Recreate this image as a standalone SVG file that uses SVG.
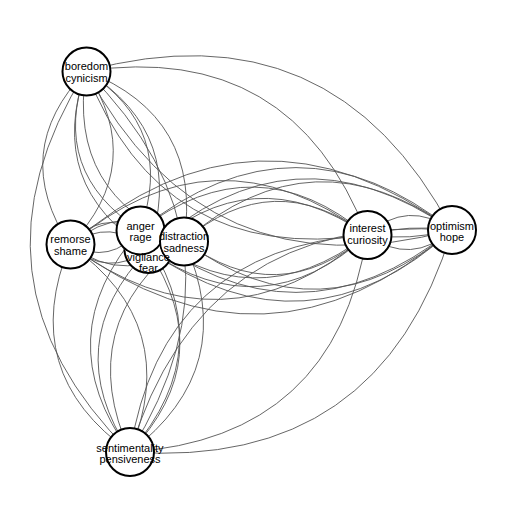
<svg xmlns="http://www.w3.org/2000/svg" width="523" height="523" viewBox="0 0 523 523">
<style>
.e{fill:none;stroke:#555;stroke-width:0.9}
.n{fill:#fff;stroke:#000;stroke-width:2}
.t{font-family:"Liberation Sans",Arial,Helvetica,sans-serif;font-size:11px;fill:#000;text-anchor:middle}
</style>
<defs>
<mask id="maskV" maskUnits="userSpaceOnUse" x="0" y="0" width="523" height="523">
<rect x="0" y="0" width="523" height="523" fill="#fff"/>
<circle cx="140.5" cy="230.5" r="25" fill="#000"/>
<circle cx="184" cy="241.5" r="25" fill="#000"/>
</mask>
</defs>
<rect width="523" height="523" fill="#fff"/>
<g id="edges">
<path class="e" d="M86,71 Q147.6,164.4 70,245"/>
<path class="e" d="M86,71 Q8.4,151.6 70,245"/>
<path class="e" d="M86,71 Q176.6,128.9 140,230"/>
<path class="e" d="M86,71 Q49.4,172.1 140,230"/>
<path class="e" d="M86,71 Q188.6,135.7 148,250"/>
<path class="e" d="M86,71 Q45.4,185.3 148,250"/>
<path class="e" d="M86,71 Q203,116.8 184,241"/>
<path class="e" d="M86,71 Q67,195.2 184,241"/>
<path class="e" d="M86,71 Q292.1,40.6 367,235"/>
<path class="e" d="M86,71 Q160.9,265.4 367,235"/>
<path class="e" d="M86,71 Q332.6,4.1 452,230"/>
<path class="e" d="M86,71 Q205.4,296.9 452,230"/>
<path class="e" d="M86,71 Q260.4,243.9 130,452"/>
<path class="e" d="M86,71 Q-44.4,279.1 130,452"/>
<path class="e" d="M70,245 Q99,209.5 140,230"/>
<path class="e" d="M70,245 Q111,265.5 140,230"/>
<path class="e" d="M70,245 Q111,216.3 148,250"/>
<path class="e" d="M70,245 Q107,278.7 148,250"/>
<path class="e" d="M70,245 Q125.4,197.4 184,241"/>
<path class="e" d="M70,245 Q128.6,288.6 184,241"/>
<path class="e" d="M70,245 Q214.5,121.2 367,235"/>
<path class="e" d="M70,245 Q222.5,358.8 367,235"/>
<path class="e" d="M70,245 Q255,84.7 452,230"/>
<path class="e" d="M70,245 Q267,390.3 452,230"/>
<path class="e" d="M70,245 Q182.8,324.5 130,452"/>
<path class="e" d="M70,245 Q17.2,372.5 130,452"/>
<path class="e" d="M140,230 Q152,236.8 148,250"/>
<path class="e" d="M140,230 Q136,243.2 148,250"/>
<path class="e" d="M140,230 Q166.4,217.9 184,241"/>
<path class="e" d="M140,230 Q157.6,253.1 184,241"/>
<path class="e" d="M140,230 Q255.5,141.7 367,235"/>
<path class="e" d="M140,230 Q251.5,323.3 367,235"/>
<path class="e" d="M140,230 Q296,105.2 452,230"/>
<path class="e" d="M140,230 Q296,354.8 452,230"/>
<path class="e" d="M140,230 Q223.8,345 130,452"/>
<path class="e" d="M140,230 Q46.2,337 130,452"/>
<path class="e" d="M148,250 Q162.4,231.1 184,241"/>
<path class="e" d="M148,250 Q169.6,259.9 184,241"/>
<path class="e" d="M148,250 Q251.5,154.9 367,235"/>
<path class="e" d="M148,250 Q263.5,330.1 367,235"/>
<path class="e" d="M148,250 Q292,118.4 452,230"/>
<path class="e" d="M148,250 Q308,361.6 452,230"/>
<path class="e" d="M148,250 Q219.8,358.2 130,452"/>
<path class="e" d="M148,250 Q58.2,343.8 130,452"/>
<path class="e" d="M184,241 Q273.1,164.8 367,235"/>
<path class="e" d="M184,241 Q277.9,311.2 367,235"/>
<path class="e" d="M184,241 Q313.6,128.3 452,230"/>
<path class="e" d="M184,241 Q322.4,342.7 452,230"/>
<path class="e" d="M184,241 Q241.4,368.1 130,452"/>
<path class="e" d="M184,241 Q72.6,324.9 130,452"/>
<path class="e" d="M367,235 Q407.5,198.5 452,230"/>
<path class="e" d="M367,235 Q411.5,266.5 452,230"/>
<path class="e" d="M367,235 Q409,224 452,230"/>
<path class="e" d="M367,235 Q410,241 452,230"/>
<path class="e" d="M367,235 Q335.3,438.3 130,452"/>
<path class="e" d="M367,235 Q161.7,248.7 130,452"/>
<path class="e" d="M452,230 Q379.8,469.8 130,452"/>
<path class="e" d="M452,230 Q202.2,212.2 130,452"/>
</g>
<g id="node-boredom">
<circle class="n" cx="86.5" cy="71.5" r="24"/>
<text class="t" x="86.5" y="70">boredom</text>
<text class="t" x="86.5" y="82">cynicism</text>
</g>
<g id="node-remorse">
<circle class="n" cx="70.5" cy="244.5" r="24"/>
<text class="t" x="70.5" y="243">remorse</text>
<text class="t" x="70.5" y="254.5">shame</text>
</g>
<g id="node-anger">
<circle class="n" cx="140.5" cy="230.5" r="24"/>
<text class="t" x="140.5" y="229.5">anger</text>
<text class="t" x="140.5" y="241">rage</text>
</g>
<g id="node-distraction">
<circle class="n" cx="184" cy="241.5" r="24"/>
<text class="t" x="184" y="240">distraction</text>
<text class="t" x="184" y="251.5">sadness</text>
</g>
<g id="node-vigilance">
<circle class="n" cx="148.5" cy="249" r="24" mask="url(#maskV)"/>
<text class="t" x="148.5" y="261">vigilance</text>
<text class="t" x="148.5" y="272">fear</text>
</g>
<g id="node-interest">
<circle class="n" cx="367.5" cy="235" r="24"/>
<text class="t" x="367.5" y="231.5">interest</text>
<text class="t" x="367.5" y="243.5">curiosity</text>
</g>
<g id="node-optimism">
<circle class="n" cx="452" cy="230" r="24"/>
<text class="t" x="452" y="230">optimism</text>
<text class="t" x="452" y="241">hope</text>
</g>
<g id="node-sentimentality">
<circle class="n" cx="130" cy="452" r="24"/>
<text class="t" x="130" y="451.5">sentimentality</text>
<text class="t" x="130" y="463">pensiveness</text>
</g>
</svg>
